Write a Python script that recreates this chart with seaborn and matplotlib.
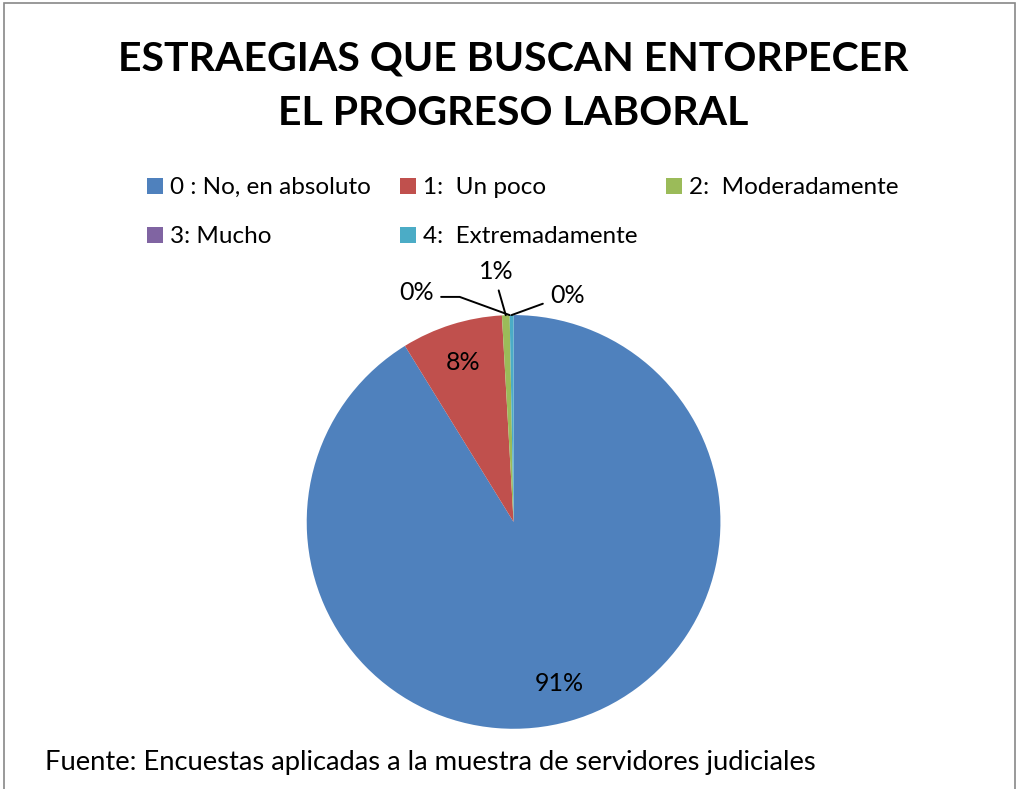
import matplotlib
matplotlib.use("Agg")
import matplotlib.pyplot as plt
import seaborn as sns
import numpy as np
from matplotlib.patches import Rectangle

# data (percent of respondents)
categories = ["0 : No, en absoluto", "1:  Un poco", "2:  Moderadamente",
              "3: Mucho", "4:  Extremadamente"]
values = [91.2, 7.9, 0.6, 0.0, 0.3]
colors = ["#4F81BD", "#C0504D", "#9BBB59", "#8064A2", "#4BACC6"]

title = "ESTRAEGIAS QUE BUSCAN ENTORPECER\nEL PROGRESO LABORAL"
source = "Fuente: Encuestas aplicadas a la muestra de servidores judiciales"

sns.set_theme(style="white")
plt.rcParams["font.family"] = ["Lato", "DejaVu Sans"]
plt.rcParams["text.color"] = "black"

fig = plt.figure(figsize=(10.19, 7.89), dpi=100)
ax = fig.add_axes([0.301, 0.076, 0.406, 0.525])

wedges, _ = ax.pie(values, colors=colors, startangle=90, counterclock=False,
                   radius=1.0, wedgeprops=dict(linewidth=0))
ax.set_xlim(-1, 1)
ax.set_ylim(-1, 1)
ax.set_aspect("equal")
ax.axis("off")

# labels: big slices inside, tiny slices outside with leader lines
total = sum(values)
outside = {
    2: ((-0.082, 1.21), (0.5, 0.0), "arc3,rad=0"),
    3: ((-0.47, 1.11), (1.0, 0.3), "angle,angleA=0,angleB=160,rad=0"),
    4: ((0.26, 1.095), (0.0, 0.3), "angle,angleA=180,angleB=20,rad=0"),
}
for i, w in enumerate(wedges):
    mid = np.deg2rad((w.theta1 + w.theta2) / 2)
    pct = f"{round(values[i] / total * 100):.0f}%"
    if i in outside:
        (tx, ty), rel, conn = outside[i]
        ax.annotate(pct, xy=(np.cos(mid), np.sin(mid)), xytext=(tx, ty),
                    ha="center", va="center", fontsize=18, color="black",
                    annotation_clip=False,
                    arrowprops=dict(arrowstyle="-", color="black", lw=1.4,
                                    relpos=rel, connectionstyle=conn,
                                    shrinkA=3, shrinkB=0))
    else:
        r = 0.81
        ax.text(r * np.cos(mid), r * np.sin(mid), pct, ha="center",
                va="center", fontsize=18, color="black")

fig.text(0.504, 0.891, title, ha="center", va="center", fontsize=29.5,
         fontweight="bold", linespacing=1.6, color="black")

order = [0, 3, 1, 4, 2]
fig.legend([wedges[i] for i in order], [categories[i] for i in order],
           ncol=3, loc="center left", bbox_to_anchor=(0.123, 0.731),
           frameon=False, fontsize=17.5, handlelength=0.65, handleheight=0.65,
           handletextpad=0.3, columnspacing=1.18, labelspacing=1.15)

fig.text(0.044, 0.034, source, ha="left", va="center", fontsize=19.7)

fig.patches.append(Rectangle((0.004, -0.05), 0.992, 1.046, transform=fig.transFigure,
                             fill=False, edgecolor="#888888", lw=1.2))

fig.savefig("out.png", dpi=100, facecolor="white")
